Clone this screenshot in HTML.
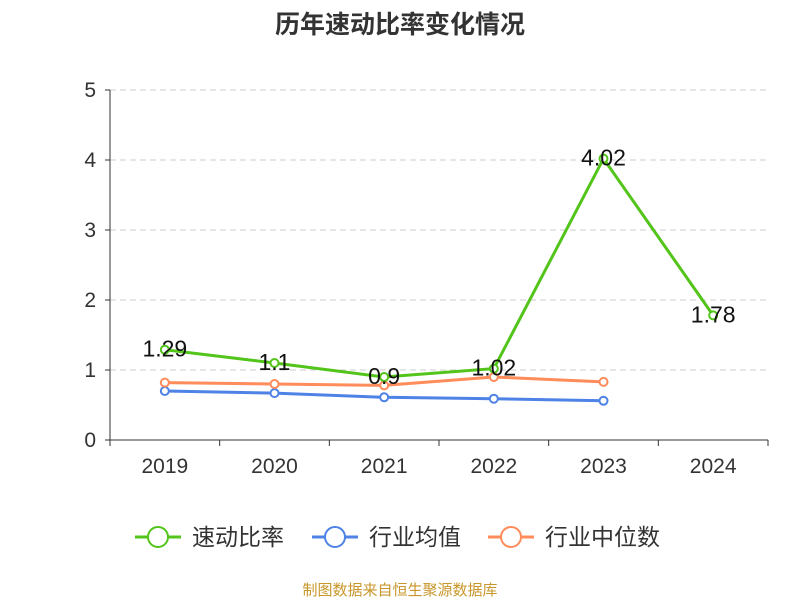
<!DOCTYPE html>
<html><head><meta charset="utf-8"><style>
body{margin:0;background:#fff;font-family:"Liberation Sans","Noto Sans CJK SC",sans-serif}
</style></head><body>
<svg id="chart" width="800" height="600" xmlns="http://www.w3.org/2000/svg">
<text x="400" y="33" text-anchor="middle" font-size="25" font-weight="bold" fill="#333">历年速动比率变化情况</text>
<g id="grid"></g><g id="axes"></g><g id="series"></g><g id="legend"></g>
<text x="400" y="595" text-anchor="middle" font-size="15" fill="#c8962a">制图数据来自恒生聚源数据库</text>
</svg>
<script>
const categories=['2019','2020','2021','2022','2023','2024'];
const quickRatio=[1.29,1.1,0.9,1.02,4.02,1.78];
const industryAvg=[0.70,0.67,0.61,0.59,0.56,null];
const industryMedian=[0.82,0.80,0.78,0.90,0.83,null];
const yTicks=[0,1,2,3,4,5];
const seriesNames=['速动比率','行业均值','行业中位数'];
const colors=['#52c41a','#4e82e6','#ff8c5a'];
const NS='http://www.w3.org/2000/svg';
const x0=110,x1=768,yb=440,yt=90;
const bw=(x1-x0)/categories.length;
const xs=i=>x0+bw*(i+0.5);
const ys=v=>yb-(v/5)*(yb-yt);
function mk(tag,attrs,parent){const e=document.createElementNS(NS,tag);for(const k in attrs)e.setAttribute(k,attrs[k]);parent.appendChild(e);return e;}
const grid=document.getElementById('grid'),axes=document.getElementById('axes'),ser=document.getElementById('series'),leg=document.getElementById('legend');
yTicks.forEach(t=>{
 if(t>0){const l=mk('line',{x1:x0,x2:x1,y1:ys(t),y2:ys(t),stroke:'#ccc','stroke-dasharray':'6,4'},grid);
 }
 const tk=mk('line',{x1:x0-5,x2:x0,y1:ys(t),y2:ys(t),stroke:'#333'},axes);
 
 const tx=mk('text',{x:x0-14,y:ys(t)+7,'text-anchor':'end','font-size':21,fill:'#333'},axes);tx.textContent=t;
 
});
const ya=mk('line',{x1:x0,x2:x0,y1:yt,y2:yb,stroke:'#333'},axes);

const xa=mk('line',{x1:x0,x2:x1,y1:yb,y2:yb,stroke:'#333'},axes);

for(let i=0;i<=categories.length;i++){const t=mk('line',{x1:x0+bw*i,x2:x0+bw*i,y1:yb,y2:yb+6,stroke:'#333'},axes);
 }
categories.forEach((c,i)=>{const t=mk('text',{x:xs(i),y:473,'text-anchor':'middle','font-size':21,fill:'#333'},axes);t.textContent=c;
 });
function drawLine(data,color,name,labels){
 const pts=[];data.forEach((v,i)=>{if(v!=null)pts.push([xs(i),ys(v),v]);});
 const p=mk('polyline',{points:pts.map(p=>p[0]+','+p[1]).join(' '),fill:'none',stroke:color,'stroke-width':3},ser);
 
 pts.forEach(q=>{const c=mk('circle',{cx:q[0],cy:q[1],r:4,fill:'#fff',stroke:color,'stroke-width':2},ser);
  
  if(labels){const t=mk('text',{x:q[0],y:q[1]+7,'text-anchor':'middle','font-size':23,fill:'#111'},ser);t.textContent=q[2];
   }});
}
drawLine(industryAvg,colors[1],'industry-avg',false);
drawLine(industryMedian,colors[2],'industry-median',false);
drawLine(quickRatio,colors[0],'quick-ratio',true);
const lx=[135,312,488];
seriesNames.forEach((n,i)=>{
 const g=mk('g',{},leg);
 mk('line',{x1:lx[i],x2:lx[i]+46,y1:537,y2:537,stroke:colors[i],'stroke-width':3},g);
 mk('circle',{cx:lx[i]+23,cy:537,r:10,fill:'#fff',stroke:colors[i],'stroke-width':2},g);
 const t=mk('text',{x:lx[i]+57,y:545,'font-size':23,fill:'#333'},g);t.textContent=n;
});
</script>
</body></html>
